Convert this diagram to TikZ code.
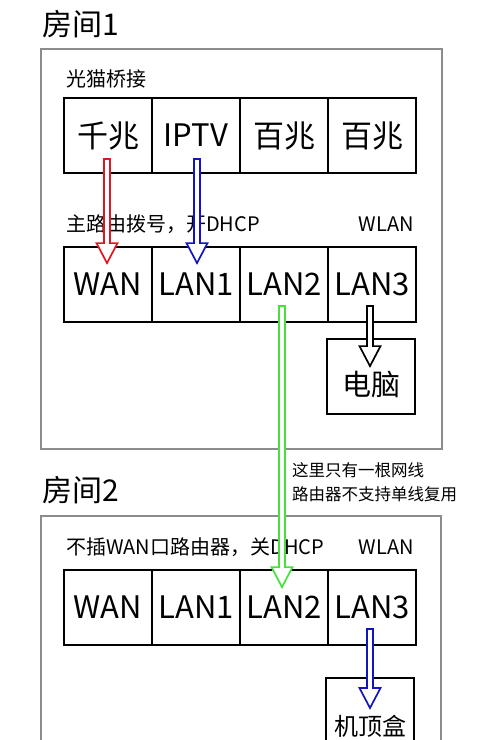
\documentclass[tikz,border=0pt]{standalone}
\usepackage{fontspec}
\setmainfont{Noto Sans CJK SC}
\usetikzlibrary{calc}
\definecolor{roomgray}{RGB}{140,140,140}
\definecolor{arrred}{RGB}{220,25,35}
\definecolor{arrblue}{RGB}{20,20,190}
\definecolor{arrgreen}{RGB}{70,225,60}
\newcommand\hollowarr[3]{%
  \draw[harrow, draw=#1] let \p1=(#2), \p2=(#3) in
    (\x2-3pt,\y1) -- (\x2-3pt,\y2+20pt) -- (\x2-10.5pt,\y2+20pt) -- (\x2,\y2)
    -- (\x2+10.5pt,\y2+20pt) -- (\x2+3pt,\y2+20pt) -- (\x2+3pt,\y1) -- cycle;}
\begin{document}
\begin{tikzpicture}[x=1pt,y=-1pt,
  cell/.style={draw=black, line width=1.8pt, minimum width=88pt, minimum height=75pt,
    inner sep=0pt, font=\fontsize{31}{31}\selectfont},
  room/.style={draw=roomgray, line width=2pt, inner sep=0pt, anchor=north west},
  title/.style={anchor=west, inner sep=0pt, font=\fontsize{30}{30}\selectfont},
  small/.style={inner sep=0pt, font=\fontsize{20}{20}\selectfont},
  note/.style={inner sep=0pt, anchor=west, align=left, font=\fontsize{16.5}{24}\selectfont},
  harrow/.style={line width=1.7pt, fill=white, line join=miter}]
\clip (0,0) rectangle (480,740);
\fill[white] (0,0) rectangle (480,740);

% room 1
\node[title] (t1) at (42,24) {房间1};
\node[room, minimum width=401pt, minimum height=400pt] (r1) at (40,48) {};
\node[small, anchor=west] (l1) at (66,79) {光猫桥接};
\node[cell] (a1) at (108,135.5) {千兆};
\node[cell] (a2) at (196,135.5) {IPTV};
\node[cell] (a3) at (284,135.5) {百兆};
\node[cell] (a4) at (372,135.5) {百兆};
\node[small, anchor=west] (l2) at (66,224) {主路由拨号，开DHCP};
\node[small, anchor=east] (w1) at (414,224) {WLAN};
\node[cell] (b1) at (108,284.5) {WAN};
\node[cell] (b2) at (196,284.5) {LAN1};
\node[cell] (b3) at (284,284.5) {LAN2};
\node[cell] (b4) at (372,284.5) {LAN3};
\node[cell, minimum width=88pt, label={[inner sep=0pt, yshift=-8.5pt, font=\fontsize{29}{29}\selectfont]center:电脑}] (pc) at (371,376.5) {};

% note
\node[note] (nt) at (292,482) {这里只有一根网线\\路由器不支持单线复用};

% room 2
\node[title] (t2) at (42,490) {房间2};
\node[room, minimum width=400pt, minimum height=300pt] (r2) at (40,515) {};
\node[small, anchor=west] (l3) at (66,547) {不插WAN口路由器，关DHCP};
\node[small, anchor=east] (w2) at (414,547) {WLAN};
\node[cell] (c1) at (108,607.5) {WAN};
\node[cell] (c2) at (196,607.5) {LAN1};
\node[cell] (c3) at (284,607.5) {LAN2};
\node[cell] (c4) at (372,607.5) {LAN3};
\node[cell, minimum height=90pt, anchor=north, label={[inner sep=0pt, yshift=-3pt, font=\fontsize{24}{24}\selectfont]center:机顶盒}] (stb) at (370,677) {};

% connectors
\coordinate (s1) at ($(a1.south)+(-1,-15)$);
\coordinate (e1) at ($(b1.north)+(-1,17)$);
\coordinate (s2) at ($(a2.south)+(1,-15)$);
\coordinate (e2) at ($(b2.north)+(1,17)$);
\coordinate (s3) at ($(b3.south)+(-2,-17)$);
\coordinate (e3) at ($(c3.north)+(-2,18)$);
\coordinate (s4) at ($(b4.south)+(-2,-17)$);
\coordinate (e4) at ($(pc.north)+(-1,28)$);
\coordinate (s5) at ($(c4.south)+(-2,-17)$);
\coordinate (e5) at ($(stb.north)+(0,31)$);
\hollowarr{arrred}{s1}{e1}
\hollowarr{arrblue}{s2}{e2}
\hollowarr{arrgreen}{s3}{e3}
\hollowarr{black}{s4}{e4}
\hollowarr{arrblue}{s5}{e5}
\end{tikzpicture}
\end{document}
